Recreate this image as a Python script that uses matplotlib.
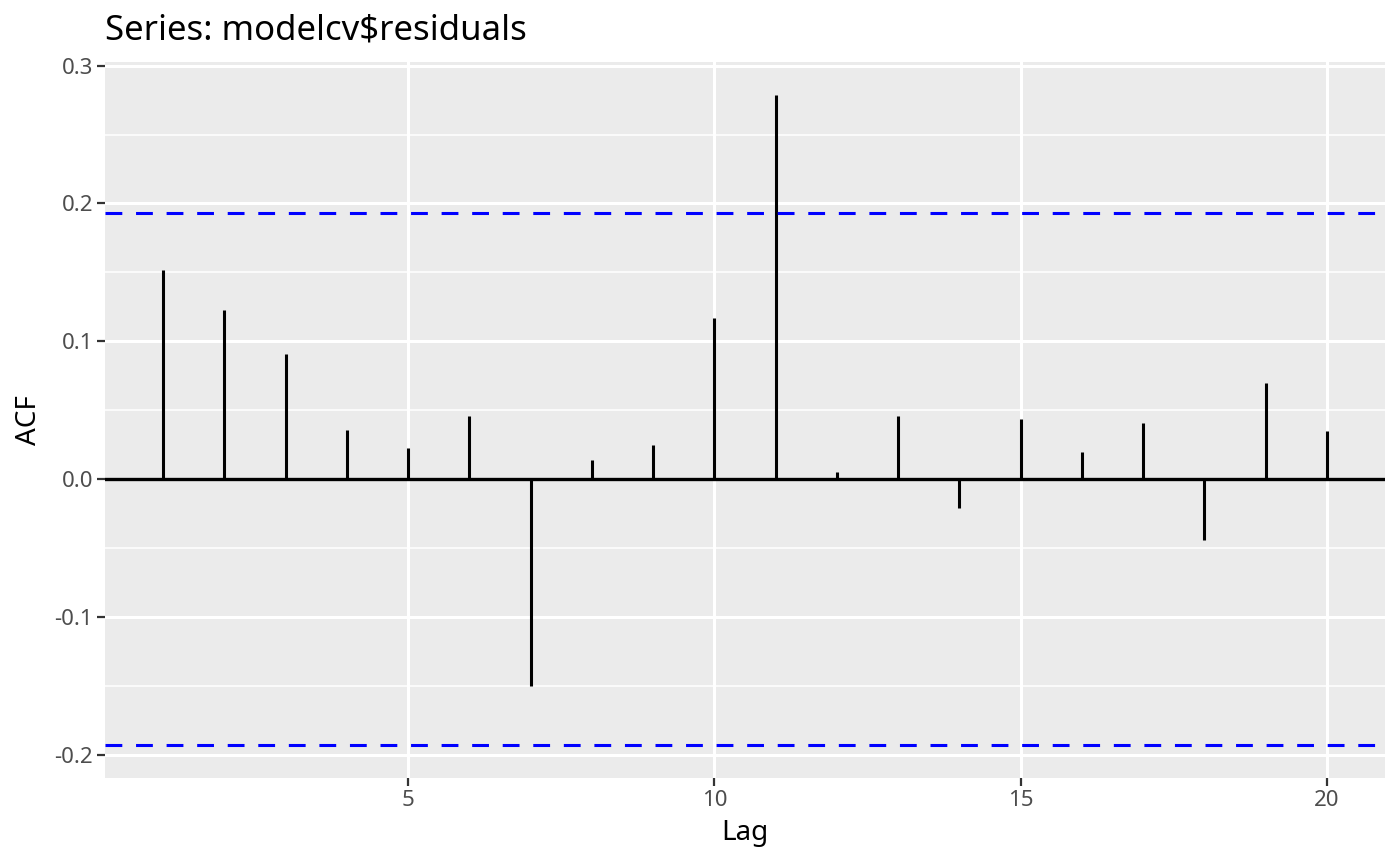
import numpy as np
import matplotlib
matplotlib.use("Agg")
import matplotlib.pyplot as plt

# ACF values
lags = np.arange(1, 21)
acf_vals = [0.152, 0.123, 0.091, 0.036, 0.023, 0.046, -0.150, 0.014, 0.025, 0.117,
            0.279, 0.005, 0.046, -0.021, 0.044, 0.020, 0.041, -0.044, 0.070, 0.035]
ci = 0.193  # 95% bound

x_ticks = [5, 10, 15, 20]
y_ticks = [-0.2, -0.1, 0.0, 0.1, 0.2, 0.3]
y_labels = ["-0.2", "-0.1", "0.0", "0.1", "0.2", "0.3"]
y_minor = [-0.15, -0.05, 0.05, 0.15, 0.25]

plt.rcParams['font.family'] = ['Noto Sans', 'DejaVu Sans']

fig = plt.figure(figsize=(14, 8.66), dpi=100)
ax = fig.add_axes([105/1400, 1 - 778/866, 1280/1400, 716/866])
ax.set_facecolor('#EBEBEB')

ax.set_xlim(0.05, 20.95)
lo, hi = -ci, max(acf_vals)
pad = (hi - lo) * 0.05
ax.set_ylim(lo - pad, hi + pad)

ax.set_xticks(x_ticks)
ax.set_yticks(y_ticks)
ax.set_yticklabels(y_labels)
ax.set_yticks(y_minor, minor=True)

ax.grid(which='major', color='white', linewidth=2.2)
ax.grid(which='minor', axis='y', color='white', linewidth=1.1)
ax.set_axisbelow(True)
for s in ax.spines.values():
    s.set_visible(False)

ax.tick_params(which='major', length=5.5, width=1.6, color='#333333',
               labelcolor='#4D4D4D', labelsize=16, pad=3)
ax.tick_params(which='minor', length=0)

ax.axhline(0, color='black', linewidth=2.4, zorder=3)
ax.vlines(lags, 0, acf_vals, color='black', linewidth=2.2, zorder=3)
ax.axhline(ci, color='#0000FF', linewidth=2.2, linestyle=(0, (5.5, 4.5)), zorder=4)
ax.axhline(-ci, color='#0000FF', linewidth=2.2, linestyle=(0, (5.5, 4.5)), zorder=4)

ax.set_xlabel('Lag', fontsize=20, labelpad=6)
ax.set_ylabel('ACF', fontsize=20, labelpad=8)
ax.set_title('Series: modelcv$residuals', fontsize=25, loc='left', pad=16)

fig.savefig('out.png', dpi=100)
